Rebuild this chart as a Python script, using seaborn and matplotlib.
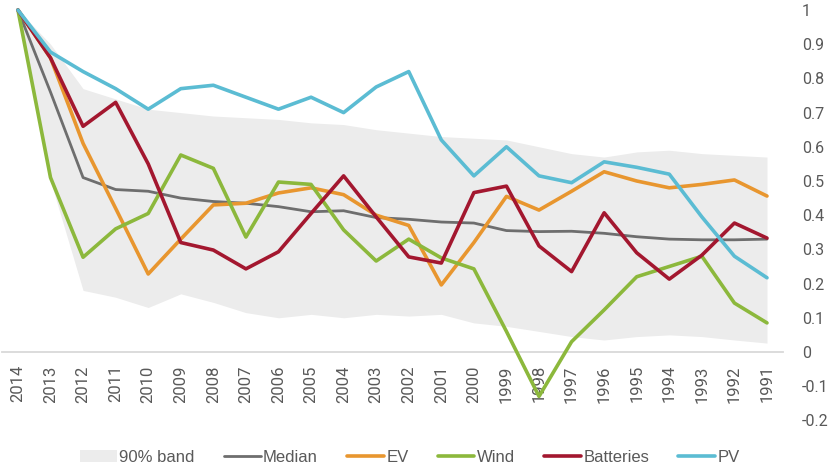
import numpy as np
import pandas as pd
import seaborn as sns
import matplotlib
matplotlib.use("Agg")
import matplotlib.pyplot as plt
from matplotlib.ticker import FuncFormatter

years = list(range(2014, 1990, -1))
median = [1.0, 0.76, 0.51, 0.475, 0.47, 0.45, 0.44, 0.435, 0.425, 0.41, 0.413, 0.393,
          0.388, 0.38, 0.377, 0.355, 0.352, 0.353, 0.347, 0.337, 0.33, 0.328, 0.328, 0.33]
ev = [1.0, 0.86, 0.61, 0.42, 0.228, 0.33, 0.43, 0.435, 0.465, 0.48, 0.46, 0.40,
      0.37, 0.196, 0.32, 0.455, 0.415, 0.47, 0.527, 0.50, 0.48, 0.49, 0.503, 0.456]
wind = [1.0, 0.51, 0.277, 0.36, 0.405, 0.576, 0.537, 0.336, 0.497, 0.49, 0.357, 0.266,
        0.33, 0.275, 0.243, 0.06, -0.13, 0.03, 0.123, 0.22, 0.25, 0.28, 0.143, 0.085]
batteries = [1.0, 0.86, 0.66, 0.73, 0.55, 0.32, 0.298, 0.243, 0.293, 0.405, 0.515, 0.395,
             0.278, 0.26, 0.466, 0.485, 0.31, 0.235, 0.407, 0.29, 0.213, 0.283, 0.377, 0.333]
pv = [1.0, 0.877, 0.82, 0.77, 0.71, 0.77, 0.78, 0.745, 0.71, 0.745, 0.70, 0.775,
      0.82, 0.62, 0.515, 0.60, 0.515, 0.495, 0.556, 0.54, 0.52, 0.395, 0.28, 0.217]
band_low = [1.0, 0.50, 0.18, 0.16, 0.13, 0.17, 0.145, 0.115, 0.10, 0.11, 0.10, 0.11,
            0.105, 0.11, 0.085, 0.075, 0.06, 0.045, 0.035, 0.045, 0.05, 0.045, 0.035, 0.026]
band_high = [1.0, 0.90, 0.77, 0.74, 0.71, 0.70, 0.69, 0.685, 0.68, 0.67, 0.665, 0.65,
             0.64, 0.63, 0.625, 0.62, 0.60, 0.58, 0.57, 0.585, 0.59, 0.58, 0.575, 0.57]

sns.set_theme(style="white")
plt.rcParams['font.family'] = ['Roboto', 'DejaVu Sans']
plt.rcParams['axes.unicode_minus'] = False

df = pd.DataFrame({"year": years, "Median": median, "EV": ev, "Wind": wind,
                   "Batteries": batteries, "PV": pv})

fig = plt.figure(figsize=(8.3, 4.68), dpi=100)
ax = fig.add_axes([0.002, 0.0872, 0.9417, 0.906])

ax.fill_between(years, band_low, band_high, color="#ececec", lw=0, label="90% band")

styles = {"Median": ("#6e6e6e", 2.0), "EV": ("#e8962f", 2.6), "Wind": ("#8cb83c", 2.6),
          "Batteries": ("#a3172f", 2.6), "PV": ("#5bbcd3", 2.6)}
for name, (col, lw) in styles.items():
    sns.lineplot(data=df, x="year", y=name, color=col, linewidth=lw, label=name, ax=ax,
                 legend=False)

# spines first: moving the bottom spine resets the tick text properties
for s in ["top", "left", "right"]:
    ax.spines[s].set_visible(False)
ax.spines["bottom"].set_position(("data", 0))
ax.spines["bottom"].set_color("#d9d9d9")
ax.spines["bottom"].set_linewidth(1.3)
ax.spines["bottom"].set_zorder(0.5)

ax.set_xlim(2014.5, 1990.5)
ax.set_ylim(-0.22, 1.02)
ax.set_xticks(years)
ax.set_xticklabels([str(y) for y in years])
ax.set_yticks(np.round(np.arange(-0.2, 1.01, 0.1), 1))
ax.yaxis.set_major_formatter(FuncFormatter(lambda v, p: f"{v:g}"))
ax.yaxis.tick_right()
ax.set_xlabel("")
ax.set_ylabel("")

ax.tick_params(axis="x", length=0, pad=9.5, labelsize=12, labelcolor="#595959",
               labelrotation=90)
ax.tick_params(axis="y", length=0, pad=13.5, labelsize=11.5, labelcolor="#595959")
ax.set_facecolor("none")

handles, labels = ax.get_legend_handles_labels()
fig.legend(handles, labels, loc="center", bbox_to_anchor=(0.494, 0.0235), ncol=6,
           frameon=False, handlelength=2.2, handletextpad=0.15, columnspacing=1.75,
           prop={"family": ["Liberation Sans", "DejaVu Sans"], "size": 12},
           labelcolor="#595959")

fig.savefig("out.png", dpi=100)
